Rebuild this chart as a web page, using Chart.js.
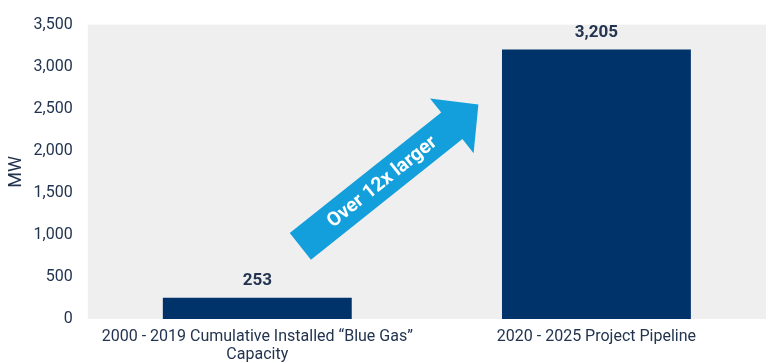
<!DOCTYPE html>
<html>
<head>
<meta charset="utf-8">
<script src="https://cdn.jsdelivr.net/npm/chart.js@4"></script>
<style>
  html, body { margin: 0; padding: 0; background: #fff; }
  #wrap { width: 776px; height: 363px; }
</style>
</head>
<body>
<div id="wrap"><canvas id="myChart"></canvas></div>
<script>
var categories = [["2000 - 2019 Cumulative Installed \u201cBlue Gas\u201d", "Capacity"], "2020 - 2025 Project Pipeline"];
var capacityMW = [253, 3205];
var yTicks = [0, 500, 1000, 1500, 2000, 2500, 3000, 3500];
var arrowText = "Over 12x larger";

var textColor = "#22344f";

// grey panel behind the bars
var plotBg = {
    id: 'plotBg',
    beforeDraw: function(chart) {
        var a = chart.chartArea, c = chart.ctx;
        c.save();
        c.fillStyle = "#efefef";
        c.fillRect(a.left, a.top, a.right - a.left, a.bottom - a.top);
        c.restore();
    }
};

// value labels on top of the bars
var valueLabels = {
    id: 'valueLabels',
    afterDatasetsDraw: function(chart) {
        var c = chart.ctx;
        var meta = chart.getDatasetMeta(0);
        c.save();
        c.font = "bold 17px Roboto";
        c.fillStyle = textColor;
        c.textAlign = "center";
        c.textBaseline = "bottom";
        meta.data.forEach(function(bar, i) {
            c.fillText(capacityMW[i].toLocaleString('en-US'), bar.x, bar.y - 8);
        });
        c.restore();
    }
};

// big blue arrow, placed in scale units
var growthArrow = {
    id: 'growthArrow',
    afterDatasetsDraw: function(chart) {
        var xs = chart.scales.x, ys = chart.scales.y, c = chart.ctx;
        var x0 = xs.getPixelForValue(0.127), y0 = ys.getPixelForValue(864);
        var x1 = xs.getPixelForValue(0.652), y1 = ys.getPixelForValue(2549);
        var len = Math.hypot(x1 - x0, y1 - y0);
        var ang = Math.atan2(y1 - y0, x1 - x0);
        var sw = 17, hw = 35, hl = 34;
        c.save();
        c.translate(x0, y0);
        c.rotate(ang);
        c.fillStyle = "#139fdb";
        c.beginPath();
        c.moveTo(0, -sw);
        c.lineTo(len - hl, -sw);
        c.lineTo(len - hl, -hw);
        c.lineTo(len, 0);
        c.lineTo(len - hl, hw);
        c.lineTo(len - hl, sw);
        c.lineTo(0, sw);
        c.closePath();
        c.fill();
        c.fillStyle = "#fff";
        c.font = "bold 19.5px Roboto";
        c.textAlign = "center";
        c.textBaseline = "middle";
        c.fillText(arrowText, 104, 1);
        c.restore();
    }
};

var ctx = document.getElementById('myChart');
var chart = new Chart(ctx, {
    type: 'bar',
    data: {
        labels: categories,
        datasets: [{
            data: capacityMW,
            backgroundColor: "#01336b",
            barPercentage: 0.557,
            categoryPercentage: 1
        }]
    },
    plugins: [plotBg, valueLabels, growthArrow],
    options: {
        responsive: true,
        maintainAspectRatio: false,
        animation: false,
        layout: {
            padding: { top: 14, right: 10, left: 6, bottom: 0 }
        },
        plugins: {
            legend: { display: false },
            tooltip: { enabled: false }
        },
        scales: {
            x: {
                grid: { display: false, drawTicks: false },
                border: { display: false },
                afterFit: function(axis) { axis.height = 44; },
                ticks: {
                    color: textColor,
                    font: { family: "Roboto", size: 16, lineHeight: 1.12 },
                    padding: 9,
                    maxRotation: 0
                }
            },
            y: {
                min: 0,
                max: 3500,
                afterBuildTicks: function(axis) {
                    axis.ticks = yTicks.map(function(v) { return { value: v }; });
                },
                grid: { display: false, drawTicks: false },
                border: { display: false },
                ticks: {
                    color: textColor,
                    font: { family: "Roboto", size: 16 },
                    padding: 15,
                    callback: function(v) { return v.toLocaleString('en-US'); }
                },
                title: {
                    display: true,
                    text: "MW",
                    color: textColor,
                    font: { family: "Roboto", size: 18 },
                    padding: { top: 0, bottom: -9 }
                }
            }
        }
    }
});
</script>
</body>
</html>
